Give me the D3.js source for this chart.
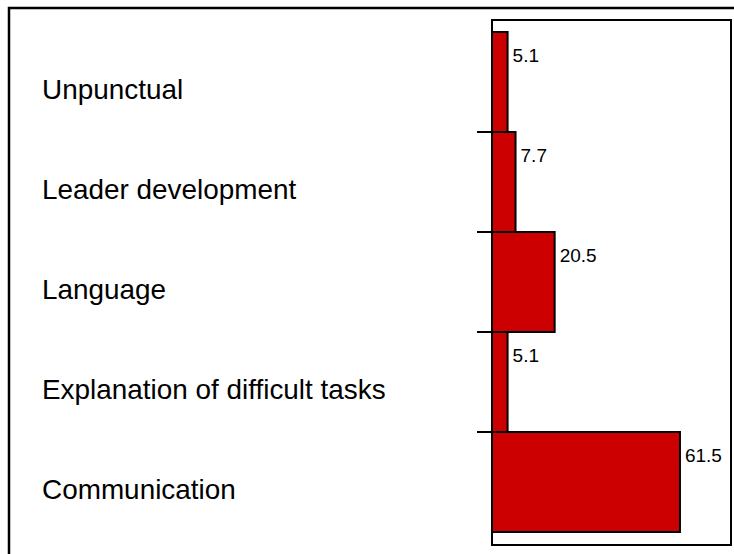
<!DOCTYPE html>
<html><head><meta charset="utf-8">
<script src="https://cdn.jsdelivr.net/npm/d3@7"></script>
<style>body{margin:0;background:#fff;}svg{display:block;font-family:"Liberation Sans",Arial,sans-serif;}</style>
</head><body>
<script>
const categories = ["Unpunctual","Leader development","Language","Explanation of difficult tasks","Communication"];
const values = [5.1, 7.7, 20.5, 5.1, 61.5];
const valueLabels = ["5.1","7.7","20.5","5.1","61.5"];

const W = 734, H = 554;
const svg = d3.select("body").append("svg").attr("width", W).attr("height", H);

// outer frame
svg.append("rect").attr("x", 9).attr("y", 8).attr("width", 740).attr("height", 560)
  .attr("fill", "none").attr("stroke", "#000").attr("stroke-width", 2.5);

const plot = {left: 492, top: 20, right: 731, bottom: 545};
svg.append("rect").attr("x", plot.left).attr("y", plot.top)
  .attr("width", plot.right - plot.left).attr("height", plot.bottom - plot.top)
  .attr("fill", "#fff").attr("stroke", "#000").attr("stroke-width", 2);

const x = d3.scaleLinear().domain([0, 78.2]).range([plot.left, plot.right]);
const y = d3.scaleBand().domain(categories).range([32, 532]).padding(0);

// ticks between bands
const yAxis = d3.axisLeft(y).tickSize(15).tickFormat("");
const ax = svg.append("g").attr("transform", `translate(${plot.left},${-y.bandwidth()/2})`).call(yAxis);
ax.select(".domain").remove();
ax.selectAll(".tick").filter((d,i) => i === 0).remove();
ax.selectAll(".tick line").attr("stroke", "#000").attr("stroke-width", 2);

svg.append("g").selectAll("rect").data(categories).join("rect")
  .attr("x", x(0)).attr("y", d => y(d))
  .attr("width", (d,i) => x(values[i]) - x(0)).attr("height", y.bandwidth())
  .attr("fill", "#cc0000").attr("stroke", "#000").attr("stroke-width", 2);

svg.append("g").selectAll("text").data(categories).join("text")
  .attr("x", (d,i) => x(values[i]) + 5).attr("y", d => y(d) + 30)
  .attr("font-size", 19).attr("fill", "#000")
  .text((d,i) => valueLabels[i]);

svg.append("g").selectAll("text").data(categories).join("text")
  .attr("x", 42).attr("y", d => y(d) + 67)
  .attr("font-size", 27.9).attr("fill", "#000")
  .text(d => d);
</script>
</body></html>
